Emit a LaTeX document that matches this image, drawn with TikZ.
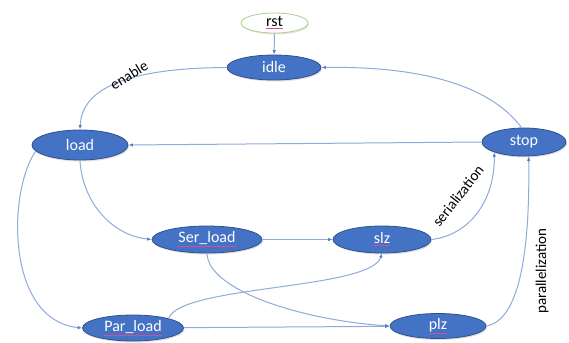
\documentclass[tikz,border=0pt]{standalone}
\usepackage{fontspec}
\setmainfont{Carlito}
\usetikzlibrary{shapes.geometric,arrows.meta,shadows}
\definecolor{nodeblue}{HTML}{4472C4}
\definecolor{nodeedge}{HTML}{2F528F}
\definecolor{linkblue}{HTML}{8FAADC}
\definecolor{tipblue}{HTML}{5B7FC6}
\definecolor{rstgreen}{HTML}{A9D18E}
\definecolor{squig}{HTML}{D0509A}
\newcommand\spellul[2]{{\color{squig}$\underline{\hbox{\color{#1}#2}}$}}
\begin{document}
\begin{tikzpicture}[x=1pt,y=-1pt,
  state/.style={ellipse, fill=nodeblue, draw=nodeedge, line width=0.8pt,
    text=white, font=\fontsize{16}{19}\selectfont, inner sep=0pt,
    drop shadow={opacity=0.25, shadow xshift=1pt, shadow yshift=-1.5pt}},
  startstate/.style={ellipse, fill=white, draw=rstgreen, line width=0.8pt,
    text=black, font=\fontsize{16}{19}\selectfont, inner sep=0pt,
    drop shadow={opacity=0.2, shadow xshift=1pt, shadow yshift=-1.5pt}},
  link/.style={draw=linkblue, line width=1pt,
    -{Latex[length=4.5pt,width=3.5pt,color=tipblue]}},
  lbl/.style={font=\fontsize{15}{17}\selectfont, text=black, inner sep=0pt}]
\fill[white] (0,0) rectangle (569,342);
\useasboundingbox (0,0) rectangle (569,342);

\node[startstate, minimum width=67pt, minimum height=20pt] (rst) at (274.5,23) {\spellul{black}{rst}};
\node[state, minimum width=94pt, minimum height=25pt] (idle) at (274,67.5) {idle};
\node[state, minimum width=96pt, minimum height=30pt] (load) at (80,145) {load};
\node[state, minimum width=84pt, minimum height=28pt] (stop) at (524,142) {stop};
\node[state, minimum width=110pt, minimum height=27pt] (serload) at (207,239.5) {\spellul{white}{Ser\_load}};
\node[state, minimum width=98pt, minimum height=27pt] (slz) at (382,239.5) {\spellul{white}{slz}};
\node[state, minimum width=101pt, minimum height=26pt] (parload) at (133,328) {\spellul{white}{Par\_load}};
\node[state, minimum width=96pt, minimum height=25pt] (plz) at (438,326) {\spellul{white}{plz}};

\draw[link] (rst) -- (idle);
\draw[link] (idle.west) .. controls (150,68) and (82,80) .. (load.north);
\draw[link] (stop.100) .. controls (490,85) and (420,66) .. (idle.east);
\draw[link] (stop.west) -- (load.east);
\draw[link] (load.south) .. controls (82,200) and (110,235) .. (serload.west);
\draw[link] (load.188) .. controls (8,190) and (5,320) .. (parload.west);
\draw[link] (serload) -- (slz);
\draw[link] (serload.south) .. controls (208,290) and (300,320) .. (plz.west);
\draw[link] (parload.15) .. controls (180,285) and (370,290) .. (slz.south);
\draw[link] (parload) -- (plz);
\draw[link] (slz.east) .. controls (470,235) and (495,200) .. (stop.199);
\draw[link] (plz.east) .. controls (520,320) and (530,250) .. (stop.-72);

\node[lbl, rotate=32] (enablelbl) at (129,75) {enable};
\node[lbl, rotate=52] (serlbl) at (458,196) {serialization};
\node[lbl, rotate=90] (parlbl) at (542,271) {parallelization};
\end{tikzpicture}
\end{document}
